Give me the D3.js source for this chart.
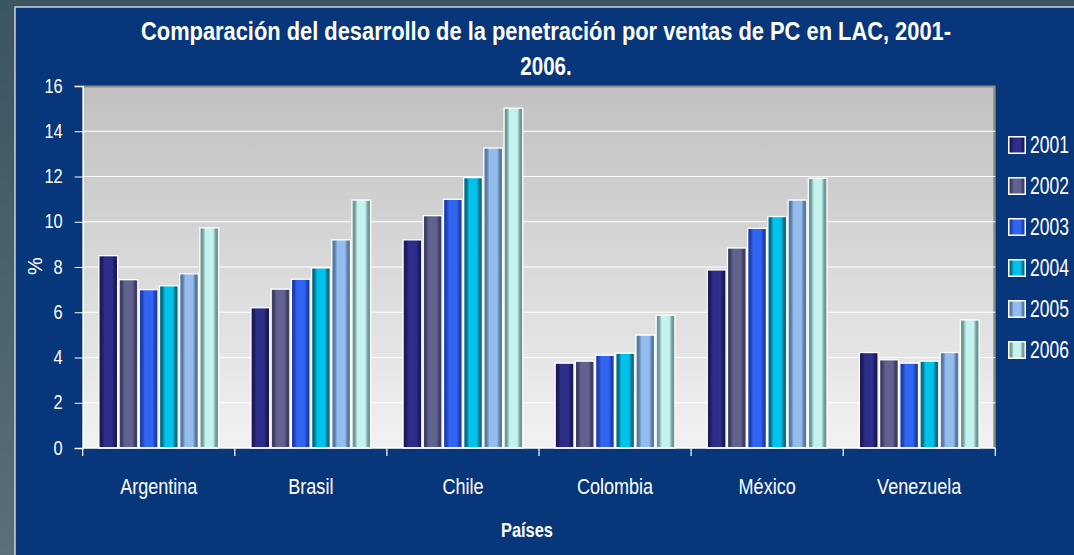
<!DOCTYPE html>
<html>
<head>
<meta charset="utf-8">
<script src="https://cdn.jsdelivr.net/npm/d3@7"></script>
<style>
  html, body { margin: 0; padding: 0; background: #3d5863; }
  svg { display: block; }
  text { font-family: "Liberation Sans Narrow", "Arial Narrow", "Liberation Sans", Arial, sans-serif; fill: #fff; }
</style>
</head>
<body>
<div id="chart"></div>
<script>
'use strict';

// Data: penetración por ventas de PC (%), 2001-2006
var countries = ['Argentina', 'Brasil', 'Chile', 'Colombia', 'México', 'Venezuela']
var years = ['2001', '2002', '2003', '2004', '2005', '2006']
var v2001 = [8.5, 6.2, 9.2, 3.75, 7.87, 4.22]
var v2002 = [7.44, 7.02, 10.27, 3.84, 8.84, 3.9]
var v2003 = [7.0, 7.46, 10.99, 4.1, 9.71, 3.75]
var v2004 = [7.17, 7.96, 11.95, 4.19, 10.23, 3.84]
var v2005 = [7.7, 9.2, 13.26, 4.99, 10.96, 4.22]
var v2006 = [9.73, 10.96, 15.02, 5.87, 11.92, 5.66]
var yTicks = [0, 2, 4, 6, 8, 10, 12, 14, 16]

var series = [v2001, v2002, v2003, v2004, v2005, v2006]

// edge / centre colours of each year's bars
var colors = [
  {edge: '#1a1a5c', mid: '#2e2e8a'},
  {edge: '#3e3e66', mid: '#62628f'},
  {edge: '#1e3fb0', mid: '#3264f2'},
  {edge: '#02708a', mid: '#00c2ea'},
  {edge: '#557aa6', mid: '#94bcec'},
  {edge: '#6f9a98', mid: '#c4f2ee'}
]

var W = 1074, H = 555
var margin = {top: 86, right: 78.7, bottom: 107, left: 82.7}
var width = W - margin.left - margin.right
var height = H - margin.top - margin.bottom

var svg = d3.select('#chart').append('svg')
  .attr('width', W)
  .attr('height', H)

var defs = svg.append('defs')

var bgGrad = defs.append('linearGradient')
  .attr('id', 'bg').attr('x1', 0).attr('y1', 0).attr('x2', 0).attr('y2', 1)
bgGrad.append('stop').attr('offset', 0).attr('stop-color', '#3a5661')
bgGrad.append('stop').attr('offset', 1).attr('stop-color', '#5a6f78')

var plotGrad = defs.append('linearGradient')
  .attr('id', 'plotbg').attr('x1', 0).attr('y1', 0).attr('x2', 0).attr('y2', 1)
plotGrad.append('stop').attr('offset', 0).attr('stop-color', '#c0c0c0')
plotGrad.append('stop').attr('offset', 1).attr('stop-color', '#f2f2f2')

colors.forEach(function(c, i) {
  var g = defs.append('linearGradient')
    .attr('id', 'bar' + i).attr('x1', 0).attr('y1', 0).attr('x2', 1).attr('y2', 0)
  g.append('stop').attr('offset', 0).attr('stop-color', c.edge)
  g.append('stop').attr('offset', 0.15).attr('stop-color', c.edge)
  g.append('stop').attr('offset', 0.3).attr('stop-color', c.mid)
  g.append('stop').attr('offset', 0.7).attr('stop-color', c.mid)
  g.append('stop').attr('offset', 0.85).attr('stop-color', c.edge)
  g.append('stop').attr('offset', 1).attr('stop-color', c.edge)
})

// Background + blue panel
svg.append('rect')
  .attr('width', W).attr('height', H)
  .attr('fill', 'url(#bg)')

svg.append('rect')
  .attr('x', 15).attr('y', 7)
  .attr('width', W).attr('height', H)
  .attr('fill', '#08367a')
  .attr('stroke', '#c9d3dd')
  .attr('stroke-width', 1.5)

// Title (two lines)
svg.append('text')
  .attr('class', 'narrow')
  .attr('x', 546).attr('y', 40)
  .attr('text-anchor', 'middle')
  .attr('font-weight', 'bold')
  .attr('font-size', 25)
  .attr('data-w', 810)
  .text('Comparación del desarrollo de la penetración por ventas de PC en LAC, 2001-')
svg.append('text')
  .attr('class', 'narrow')
  .attr('x', 546).attr('y', 75)
  .attr('text-anchor', 'middle')
  .attr('font-weight', 'bold')
  .attr('font-size', 25)
  .text('2006.')

// Scales
var x0 = d3.scaleBand()
  .domain(countries)
  .range([0, width])

var x1 = d3.scaleBand()
  .domain(years)
  .range([0, x0.bandwidth()])
  .paddingInner(0.07)
  .paddingOuter(0.8)

var y = d3.scaleLinear()
  .domain([0, 16])
  .range([height, 0])

var g = svg.append('g')
  .attr('transform', 'translate(' + margin.left + ',' + margin.top + ')')

// Plot area
g.append('rect')
  .attr('width', width).attr('height', height)
  .attr('fill', 'url(#plotbg)')

g.append('path')
  .attr('d', 'M0,0.5H' + (width - 1) + 'V' + height)
  .attr('fill', 'none')
  .attr('stroke', '#8a8a8a')
  .attr('stroke-width', 2)

// Gridlines
g.selectAll('.grid')
  .data(yTicks.filter(function(d) { return d > 0 && d < 16 }))
  .enter().append('line')
    .attr('x1', 0).attr('x2', width)
    .attr('y1', function(d) { return y(d) })
    .attr('y2', function(d) { return y(d) })
    .attr('stroke', '#fff')
    .attr('stroke-width', 1.2)

// Bars
var groups = g.selectAll('.country')
  .data(countries)
  .enter().append('g')
    .attr('transform', function(d) { return 'translate(' + x0(d) + ',0)' })

groups.selectAll('rect')
  .data(function(d, ci) {
    return years.map(function(yr, si) { return {year: yr, si: si, value: series[si][ci]} })
  })
  .enter().append('rect')
    .attr('x', function(d) { return x1(d.year) })
    .attr('y', function(d) { return y(d.value) })
    .attr('width', x1.bandwidth())
    .attr('height', function(d) { return height - y(d.value) })
    .attr('fill', function(d) { return 'url(#bar' + d.si + ')' })
    .attr('stroke', '#fff')
    .attr('stroke-width', 1.3)

// Axes
var yAxis = d3.axisLeft(y)
  .tickValues(yTicks)
  .tickSize(8)
  .tickPadding(12)

var xAxis = d3.axisBottom(x0)
  .tickSize(0)
  .tickPadding(30)

var gy = g.append('g')
  .attr('class', 'axis axis--y')
  .call(yAxis)

var gx = g.append('g')
  .attr('class', 'axis axis--x')
  .attr('transform', 'translate(0,' + height + ')')
  .call(xAxis)

// category separators
gx.selectAll('.sep')
  .data(d3.range(countries.length + 1))
  .enter().append('line')
    .attr('x1', function(i) { return i * x0.step() })
    .attr('x2', function(i) { return i * x0.step() })
    .attr('y1', 0).attr('y2', 8)
    .attr('stroke', '#fff')
    .attr('stroke-width', 1.2)

g.selectAll('.domain')
  .attr('stroke', '#fff')
  .attr('stroke-width', 1.5)

g.selectAll('.tick line')
  .attr('stroke', '#fff')

gy.selectAll('.tick text')
  .attr('class', 'narrow')
  .attr('fill', '#fff')
  .attr('font-size', 20)
  .attr('dy', '0.3em')

gx.selectAll('.tick text')
  .attr('class', 'narrow')
  .attr('fill', '#fff')
  .attr('font-size', 22)

gx.select('.domain').attr('d', 'M0,0H' + width)

// Axis titles
svg.append('text')
  .attr('class', 'narrow')
  .attr('x', 527).attr('y', 537)
  .attr('text-anchor', 'middle')
  .attr('font-weight', 'bold')
  .attr('font-size', 20)
  .text('Países')

svg.append('text')
  .attr('transform', 'translate(42,266) rotate(-90)')
  .attr('text-anchor', 'middle')
  .attr('font-size', 20)
  .text('%')

// Legend
var legend = svg.append('g')
  .attr('transform', 'translate(1008,136)')

var item = legend.selectAll('.item')
  .data(years)
  .enter().append('g')
    .attr('transform', function(d, i) { return 'translate(0,' + (i * 41) + ')' })

item.append('rect')
  .attr('x', 0.75).attr('y', 0.75)
  .attr('width', 16.5).attr('height', 16.5)
  .attr('fill', function(d, i) { return 'url(#bar' + i + ')' })
  .attr('stroke', '#fff')
  .attr('stroke-width', 1.5)

// squeezed with a transform so the label stays inside the page
item.append('text')
  .attr('transform', 'translate(22,17) scale(0.76,1)')
  .attr('font-size', 23)
  .text(function(d) { return d })

// No narrow font installed: squeeze the regular one
svg.selectAll('text.narrow').each(function() {
  var len = this.getComputedTextLength()
  var target = +this.getAttribute('data-w') || len * 0.82
  d3.select(this)
    .attr('textLength', target)
    .attr('lengthAdjust', 'spacingAndGlyphs')
})
</script>
</body>
</html>
